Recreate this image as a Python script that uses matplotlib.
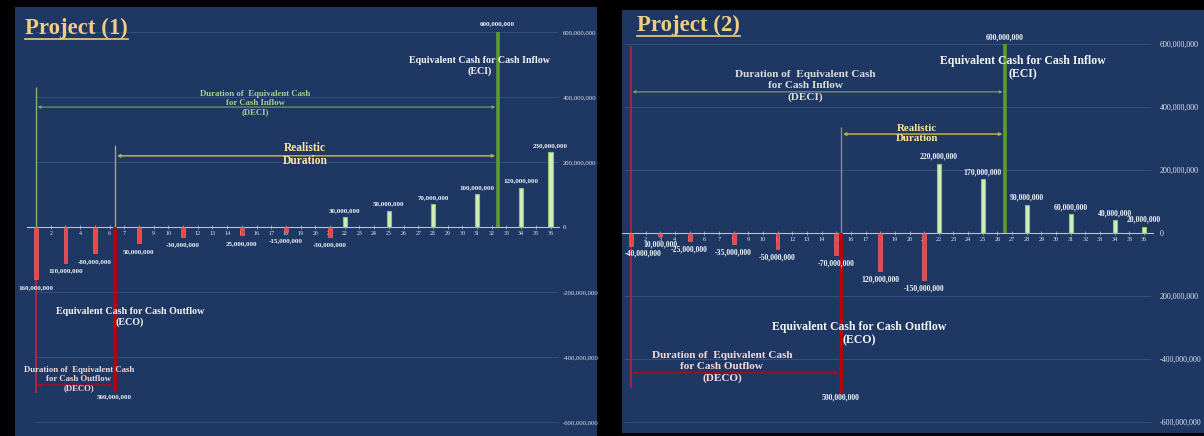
import matplotlib
matplotlib.use("Agg")
import matplotlib.pyplot as plt
from matplotlib.lines import Line2D

# ---------------- data (values in millions) ----------------
periods = list(range(1, 37))
ytick_values = [-600, -400, -200, 0, 200, 400, 600]

# Project (1)
p1_out_periods = [1, 3, 5, 8, 11, 15, 18, 21]
p1_out_values = [-160, -110, -80, -50, -30, -25, -15, -30]
p1_out_labels = ["160,000,000", "110,000,000", "-80,000,000", "50,000,000",
                 "-30,000,000", "25,000,000", "-15,000,000", "-30,000,000"]
p1_in_periods = [22, 25, 28, 31, 34, 36]
p1_in_values = [30, 50, 70, 100, 120, 230]
p1_in_labels = ["30,000,000", "50,000,000", "70,000,000", "100,000,000",
                "120,000,000", "230,000,000"]
p1_eci_value = 600
p1_eci_period = 32.4
p1_eco_value = -500
p1_eco_period = 6.35
p1_ytick_labels = ["-600,000,000", "-400,000,000", "-200,000,000", "0",
                   "200,000,000", "400,000,000", "600,000,000"]

# Project (2)
p2_out_periods = [1, 3, 5, 8, 11, 15, 18, 21]
p2_out_values = [-40, -10, -25, -35, -50, -70, -120, -150]
p2_out_labels = ["-40,000,000", "10,000,000", "-25,000,000", "-35,000,000",
                 "-50,000,000", "-70,000,000", "120,000,000", "-150,000,000"]
p2_in_periods = [22, 25, 28, 31, 34, 36]
p2_in_values = [220, 170, 90, 60, 40, 20]
p2_in_labels = ["220,000,000", "170,000,000", "90,000,000", "60,000,000",
                "40,000,000", "20,000,000"]
p2_eci_value = 600
p2_eci_period = 26.5
p2_eco_value = -500
p2_eco_period = 15.3
p2_ytick_labels = ["-600,000,000", "-400,000,000", "200,000,000", "0",
                   "200,000,000", "400,000,000", "600,000,000"]

# ---------------- style ----------------
W, H = 1204, 436
BG = "#1f3763"
RED_BAR = "#f04545"
GREEN_FACE = "#d4edb8"
GREEN_EDGE = "#8fc46e"
ECI_COL = "#5e9c30"
ECO_COL = "#c00000"
SERIF = "Liberation Serif"

fig = plt.figure(figsize=(W / 100, H / 100), dpi=100, facecolor="black")


def px_rect(x0, y0, x1, y1):
    return [x0 / W, 1 - y1 / H, (x1 - x0) / W, (y1 - y0) / H]


def panel(rect, xlim, ylim, out_p, out_v, out_l, in_p, in_v, in_l,
          eci_p, eci_v, eco_p, eco_v, ytl, cfg):
    ax = fig.add_axes(rect)
    ax.set_facecolor(BG)
    ax.set_xlim(*xlim)
    ax.set_ylim(*ylim)
    for s in ["top", "left", "right"]:
        ax.spines[s].set_visible(False)
    ax.spines["bottom"].set_position(("data", 0))
    ax.spines["bottom"].set_bounds(0.4, 36.6)
    ax.spines["bottom"].set_color("#b8c4d8")
    ax.spines["bottom"].set_linewidth(0.8)
    ax.set_xticks(periods)
    ax.set_xticklabels([str(p) for p in periods], family=SERIF)
    ax.tick_params(axis="x", direction="inout", length=2.5, width=0.5,
                   colors="#b8c4d8", labelcolor="#e4e9f2", labelsize=cfg["xt"], pad=1.5)
    ax.yaxis.tick_right()
    ax.set_yticks(ytick_values)
    ax.set_yticklabels(ytl, family=SERIF)
    ax.tick_params(axis="y", length=0, pad=cfg["ypad"], labelsize=cfg["yt"],
                   labelcolor="#e0e6f0")
    # gridlines
    for v in ytick_values:
        if v != 0:
            ax.hlines(v, cfg["grid_x0"], 36.5, color="#34507f", lw=0.7, zorder=0)

    # bars
    ax.bar(out_p, out_v, width=0.26, color=RED_BAR, edgecolor="#ff7070",
           linewidth=0.4, zorder=3)
    ax.bar(in_p, in_v, width=0.28, color=GREEN_FACE, edgecolor=GREEN_EDGE,
           linewidth=0.8, zorder=3)
    for p, v, l in zip(out_p, out_v, out_l):
        dx = cfg.get("first_dx", 0) if p == out_p[0] else 0
        ax.annotate(l, (p, v), xytext=(dx, -6), textcoords="offset points",
                    ha="center", va="center", fontsize=cfg["bl"], family=SERIF,
                    color="#eef2f8", fontweight="bold", zorder=5)
    for p, v, l in zip(in_p, in_v, in_l):
        ax.annotate(l, (p, v), xytext=(0, 5), textcoords="offset points",
                    ha="center", va="center", fontsize=cfg["bl"], family=SERIF,
                    color="#eef2f8", fontweight="bold", zorder=5)

    # start line(s) at period 1
    if cfg["start_green"]:
        ax.vlines(1, 0, cfg["deci_top"], color="#8db36a", lw=1.0, zorder=2)
        ax.vlines(1, cfg["deco_bot"], 0, color="#d0203a", lw=1.2, zorder=2)
    else:
        ax.vlines(1, cfg["deco_bot"], cfg["deci_top"], color="#c0203a", lw=1.2, zorder=2)

    # ECI and ECO lines
    ax.vlines(eci_p, 0, eci_v, color=ECI_COL, lw=2.6, zorder=4)
    ax.vlines(eco_p, eco_v - 8, 0, color=ECO_COL, lw=2.6, zorder=4)
    ax.vlines(eco_p, 0, cfg["real_top"], color=cfg["real_vcol"], lw=1.0, zorder=2)

    # arrows
    def arrow(x0, x1, y, col, headcol, lw):
        ax.annotate("", xy=(x1, y), xytext=(x0, y),
                    arrowprops=dict(arrowstyle="<|-|>", color=col, lw=lw,
                                    mutation_scale=4, shrinkA=0, shrinkB=0,
                                    fc=headcol), zorder=3)

    arrow(1.1, eci_p - 0.15, cfg["deci_y"], "#7f9f78", "#a9d18e", 0.8)
    arrow(eco_p + 0.15, eci_p - 0.15, cfg["real_y"], "#b5a845", "#ffd84a", 1.2)
    arrow(1.1, eco_p - 0.15, cfg["deco_y"], "#c00020", "#ff3030", 0.9)

    # annotations
    ax.text(eci_p, cfg["eci_lab_y"], f"{eci_v * 1_000_000:,}", ha="center",
            va="center", fontsize=cfg["bl"], family=SERIF, color="#eef2f8",
            fontweight="bold")
    ax.text(eco_p, cfg["eco_lab_y"], f"{-eco_v * 1_000_000:,}", ha="center",
            va="center", fontsize=cfg["bl"], family=SERIF, color="#eef2f8",
            fontweight="bold")
    tx = dict(ha="center", va="center", family=SERIF, fontweight="bold", zorder=6)
    ax.text(*cfg["deci_txt"], "Duration of  Equivalent Cash\nfor Cash Inflow\n(DECI)",
            fontsize=cfg["fs_d"], color=cfg["deci_col"], linespacing=cfg["ls"], **tx)
    ax.text(*cfg["real_txt"], "Realistic\nDuration", fontsize=cfg["fs_r"],
            color="#ffe699", linespacing=1.2, **tx)
    ax.text(*cfg["eci_txt"], "Equivalent Cash for Cash Inflow\n(ECI)",
            fontsize=cfg["fs_e"], color="#f4f4f4", linespacing=1.2, **tx)
    ax.text(*cfg["eco_txt"], "Equivalent Cash for Cash Outflow\n(ECO)",
            fontsize=cfg["fs_e"], color="#f4f4f4", linespacing=1.2, **tx)
    ax.text(*cfg["deco_txt"], "Duration of  Equivalent Cash\nfor Cash Outflow\n(DECO)",
            fontsize=cfg["fs_d"], color="#f6d8d8", linespacing=cfg["ls"], **tx)
    return ax


cfg1 = dict(xt=4.3, yt=4.8, ypad=-24.5, bl=5.0, grid_x0=0.9, start_green=True,
            deci_top=431, deco_bot=-511, real_top=252, real_vcol="#a4a86a",
            deci_y=369, real_y=219, deco_y=-486,
            eci_lab_y=625, eco_lab_y=-523, deci_col="#a9d18e",
            deci_txt=(15.9, 381), real_txt=(19.3, 223), eci_txt=(31.2, 494),
            eco_txt=(7.4, -277), deco_txt=(3.9, -468),
            fs_d=6.3, fs_r=8.3, fs_e=7.2, ls=1.2)
panel(px_rect(15, 7, 597, 436), (-0.43, 39.16), (-643.1, 676.9),
      p1_out_periods, p1_out_values, p1_out_labels,
      p1_in_periods, p1_in_values, p1_in_labels,
      p1_eci_period, p1_eci_value, p1_eco_period, p1_eco_value,
      p1_ytick_labels, cfg1)

cfg2 = dict(xt=4.5, yt=5.8, ypad=-32, bl=5.6, grid_x0=0.5, start_green=False,
            deci_top=594, deco_bot=-492, real_top=336, real_vcol="#8c8c8c",
            deci_y=448, real_y=314, deco_y=-444,
            eci_lab_y=622, eco_lab_y=-521, first_dx=9, deci_col="#dcdcdc",
            deci_txt=(12.9, 467), real_txt=(20.5, 316), eci_txt=(27.7, 525),
            eco_txt=(16.6, -319), deco_txt=(7.2, -425),
            fs_d=8.1, fs_r=7.8, fs_e=8.5, ls=1.3)
panel(px_rect(622, 10, 1204, 433), (0.386, 40.09), (-634.9, 707.9),
      p2_out_periods, p2_out_values, p2_out_labels,
      p2_in_periods, p2_in_values, p2_in_labels,
      p2_eci_period, p2_eci_value, p2_eco_period, p2_eco_value,
      p2_ytick_labels, cfg2)

# titles with underline
fig.canvas.draw()
renderer = fig.canvas.get_renderer()
for txt, x, base, ul in [("Project (1)", 25, 34, 39), ("Project (2)", 637, 31, 36)]:
    t = fig.text(x / W, 1 - base / H, txt, ha="left", va="baseline",
                 fontsize=16.5, family=SERIF, fontweight="bold", color="#f3cd85")
    bb = t.get_window_extent(renderer)
    fig.add_artist(Line2D([bb.x0 / W, bb.x1 / W], [1 - ul / H, 1 - ul / H],
                          color="#f3cd85", lw=1.2, transform=fig.transFigure))

fig.savefig("out.png", dpi=100, facecolor="black")
